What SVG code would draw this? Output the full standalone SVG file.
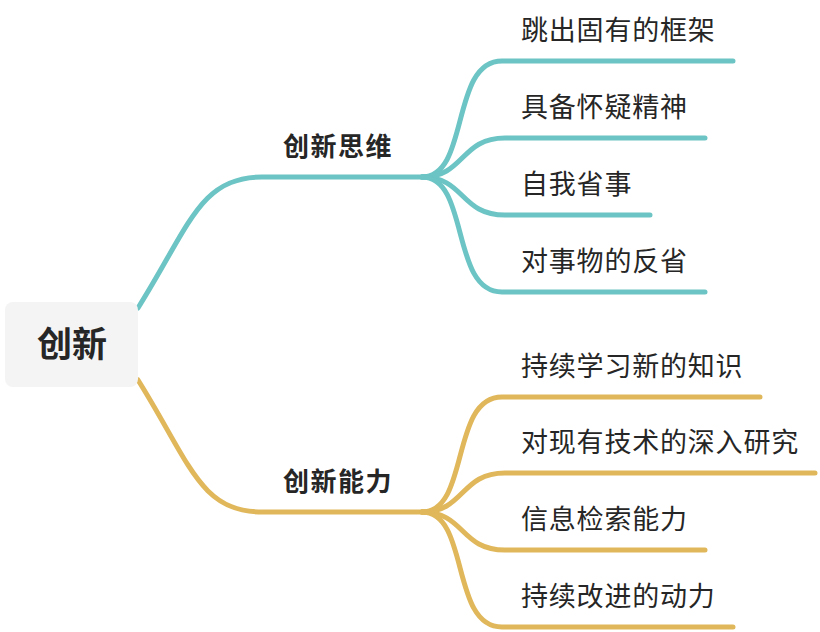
<svg xmlns="http://www.w3.org/2000/svg" width="820" height="632" viewBox="0 0 820 632">
<style>
.t{font-family:"Noto Sans CJK SC","Noto Sans",sans-serif;fill:#262626;}
.leaf{font-size:27px;letter-spacing:0.8px;}
.br{font-size:26px;font-weight:bold;letter-spacing:1.5px;}
.teal{fill:none;stroke:#6CC4C4;stroke-width:5;stroke-linecap:round;}
.gold{fill:none;stroke:#E0B75A;stroke-width:5;stroke-linecap:round;}
</style>
<rect width="820" height="632" fill="#ffffff"/>
<g id="connectors">
<path class="teal" d="M138,308 C190,225 200,177 262,177 L428,177"/>
<path class="teal" d="M422,177 C470,177 450,61 502,61 L733,61"/>
<path class="teal" d="M422,177 C465,177 460,138 505,138 L705,138"/>
<path class="teal" d="M422,177 C465,177 460,215 505,215 L650,215"/>
<path class="teal" d="M422,177 C470,177 450,292 502,292 L705,292"/>
<path class="gold" d="M138,380 C190,463 200,512 262,512 L428,512"/>
<path class="gold" d="M422,512 C470,512 450,397 502,397 L760,397"/>
<path class="gold" d="M422,512 C465,512 460,473 505,473 L815,473"/>
<path class="gold" d="M422,512 C465,512 460,550 505,550 L705,550"/>
<path class="gold" d="M422,512 C470,512 450,627 502,627 L733,627"/>
</g>
<g id="root">
<rect x="5" y="302" width="133" height="85" rx="8" fill="#F4F4F4"/>
<text class="t" x="72" y="357" font-size="35" font-weight="bold" text-anchor="middle">创新</text>
</g>
<g id="branch-thinking"><text class="t br" x="283" y="156">创新思维</text></g>
<g id="branch-ability"><text class="t br" x="283" y="491">创新能力</text></g>
<g id="leaf-1"><text class="t leaf" x="521" y="40">跳出固有的框架</text></g>
<g id="leaf-2"><text class="t leaf" x="521" y="117">具备怀疑精神</text></g>
<g id="leaf-3"><text class="t leaf" x="521" y="194">自我省事</text></g>
<g id="leaf-4"><text class="t leaf" x="521" y="271">对事物的反省</text></g>
<g id="leaf-5"><text class="t leaf" x="521" y="376">持续学习新的知识</text></g>
<g id="leaf-6"><text class="t leaf" x="521" y="452">对现有技术的深入研究</text></g>
<g id="leaf-7"><text class="t leaf" x="521" y="529">信息检索能力</text></g>
<g id="leaf-8"><text class="t leaf" x="521" y="606">持续改进的动力</text></g>
</svg>
